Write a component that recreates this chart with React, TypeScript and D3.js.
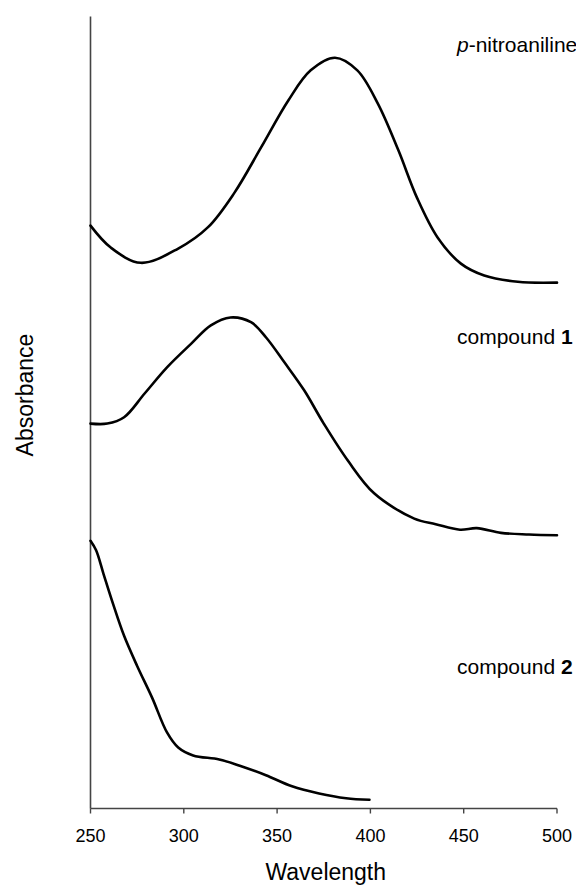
import React, { useRef, useEffect } from 'react';
import * as d3 from 'd3';

// wavelength (nm) and absorbance (stacked, arbitrary units)
const nitroWl = [250, 261, 277, 297, 313, 327, 341.5, 356, 368, 381, 393, 404, 415, 425, 436, 448.5, 461, 479, 500];
const nitroAbs = [0.736, 0.708, 0.689, 0.707, 0.734, 0.777, 0.835, 0.894, 0.932, 0.948, 0.932, 0.890, 0.831, 0.771, 0.721, 0.688, 0.673, 0.665, 0.664];

const comp1Wl = [250, 259, 268, 279, 291, 304, 314.5, 325, 336, 344, 354, 364.5, 375, 388, 402, 423.5, 435, 448, 457, 470, 485, 500];
const comp1Abs = [0.486, 0.486, 0.494, 0.524, 0.557, 0.587, 0.610, 0.620, 0.614, 0.595, 0.563, 0.528, 0.486, 0.439, 0.398, 0.366, 0.359, 0.352, 0.354, 0.348, 0.346, 0.345];

const comp2Wl = [250, 253, 257, 262, 268, 275, 283, 291, 297, 305, 319, 330, 344, 358, 372.5, 387, 399.5];
const comp2Abs = [0.338, 0.326, 0.296, 0.259, 0.218, 0.180, 0.140, 0.096, 0.077, 0.067, 0.062, 0.054, 0.042, 0.028, 0.019, 0.013, 0.011];

const xTicks = [250, 300, 350, 400, 450, 500];

const labels = [
  { pre: 'p', text: '-nitroaniline', bold: '', abs: 0.955 },
  { pre: '', text: 'compound ', bold: '1', abs: 0.586 },
  { pre: '', text: 'compound ', bold: '2', abs: 0.17 },
];

const Spectra = () => {
  const d3Container = useRef(null);

  useEffect(() => {
    if (!d3Container.current) return;
    const svg = d3.select(d3Container.current);
    svg.selectAll('*').remove();

    const width = 576;
    const height = 886;
    const font = "'Liberation Sans', Arial, sans-serif";
    svg.attr('width', width).attr('height', height);

    const x = d3.scaleLinear().domain([250, 500]).range([90.5, 557]);
    const y = d3.scaleLinear().domain([0, 1]).range([808.5, 16.5]);

    // axes
    svg.append('line')
      .attr('x1', x(250)).attr('x2', x(250))
      .attr('y1', y(1)).attr('y2', y(0))
      .attr('stroke', '#444').attr('stroke-width', 1.6);
    svg.append('line')
      .attr('x1', x(250)).attr('x2', x(500))
      .attr('y1', y(0)).attr('y2', y(0))
      .attr('stroke', '#444').attr('stroke-width', 1.6);

    svg.selectAll('.tick')
      .data(xTicks)
      .enter()
      .append('line')
      .attr('class', 'tick')
      .attr('x1', d => x(d)).attr('x2', d => x(d))
      .attr('y1', y(0)).attr('y2', y(0) + 5)
      .attr('stroke', '#444').attr('stroke-width', 1.4);

    svg.selectAll('.tickLabel')
      .data(xTicks)
      .enter()
      .append('text')
      .attr('class', 'tickLabel')
      .attr('x', d => x(d))
      .attr('y', 842)
      .attr('text-anchor', 'middle')
      .attr('font-family', font)
      .attr('font-size', 18)
      .attr('fill', '#000')
      .text(d => d);

    svg.append('text')
      .attr('x', (x(250) + x(500)) / 2 + 2)
      .attr('y', 880)
      .attr('text-anchor', 'middle')
      .attr('font-family', font)
      .attr('font-size', 23)
      .text('Wavelength');

    svg.append('text')
      .attr('transform', `translate(33, ${395}) rotate(-90)`)
      .attr('text-anchor', 'middle')
      .attr('font-family', font)
      .attr('font-size', 23)
      .text('Absorbance');

    // spectra
    const line = d3.line()
      .x(d => x(d[0]))
      .y(d => y(d[1]))
      .curve(d3.curveCatmullRom.alpha(0.5));

    const series = [
      d3.zip(nitroWl, nitroAbs),
      d3.zip(comp1Wl, comp1Abs),
      d3.zip(comp2Wl, comp2Abs),
    ];

    svg.selectAll('.spectrum')
      .data(series)
      .enter()
      .append('path')
      .attr('class', 'spectrum')
      .attr('d', d => line(d))
      .attr('fill', 'none')
      .attr('stroke', '#000')
      .attr('stroke-width', 2.6)
      .attr('stroke-linejoin', 'round')
      .attr('stroke-linecap', 'round');

    // labels
    const lab = svg.selectAll('.label')
      .data(labels)
      .enter()
      .append('text')
      .attr('class', 'label')
      .attr('x', 457)
      .attr('y', d => y(d.abs))
      .attr('font-family', font)
      .attr('font-size', 21)
      .attr('fill', '#000');
    lab.append('tspan').attr('font-style', 'italic').text(d => d.pre);
    lab.append('tspan').text(d => d.text);
    lab.append('tspan').attr('font-weight', 'bold').text(d => d.bold);
  }, [d3Container.current]);

  return (
    <svg ref={d3Container} style={{ position: 'absolute', left: 0, top: 0, display: 'block' }} />
  );
};

export default function App() {
  return <Spectra />;
}
